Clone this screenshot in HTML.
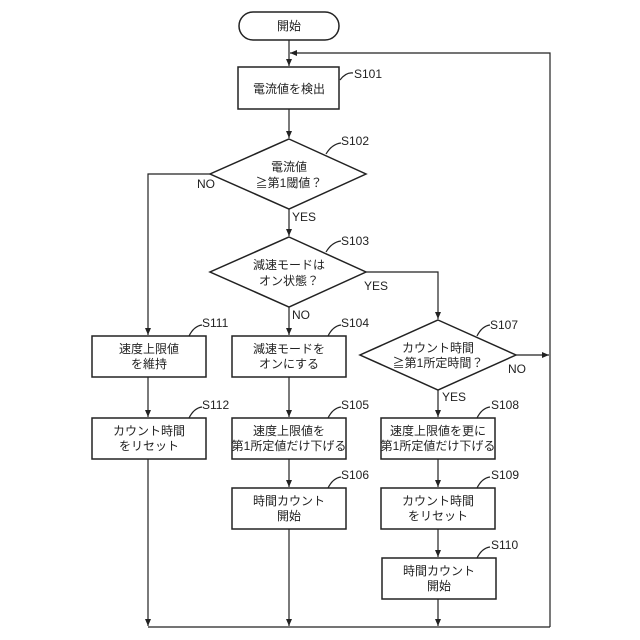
<!DOCTYPE html>
<html><head><meta charset="utf-8"><style>body{margin:0;background:#fff}svg{display:block}</style></head><body>
<svg width="640" height="640" viewBox="0 0 640 640" xmlns="http://www.w3.org/2000/svg" font-family="'Liberation Sans','Noto Sans CJK JP',sans-serif">
<defs><marker id="a" markerWidth="8" markerHeight="8" refX="7" refY="4" orient="auto" markerUnits="userSpaceOnUse"><path d="M0,1 L7,4 L0,7 z" fill="#222"/></marker></defs>
<g stroke="#222" stroke-width="1.5" fill="none">
<rect x="239" y="12" width="100" height="28" rx="14" fill="#fff"/>
<rect x="238" y="67" width="101" height="42"/>
<polygon points="289,139 366,174 289,209 210,174"/>
<polygon points="289,237 366,272 289,307 210,272"/>
<polygon points="438,320 516,355 438,390 360,355"/>
<rect x="92" y="336" width="114" height="41"/>
<rect x="92" y="418" width="114" height="41"/>
<rect x="232" y="336" width="114" height="41"/>
<rect x="232" y="418" width="114" height="41"/>
<rect x="232" y="488" width="114" height="41"/>
<rect x="381" y="418" width="114" height="41"/>
<rect x="381" y="488" width="114" height="41"/>
<rect x="382" y="558" width="114" height="41"/>
</g>
<g stroke="#222" stroke-width="1.2" fill="none">
<line x1="289" y1="40" x2="289" y2="66" marker-end="url(#a)"/>
<polyline points="550,627 550,53 290,53" marker-end="url(#a)"/>
<line x1="289" y1="109" x2="289" y2="138" marker-end="url(#a)"/>
<line x1="289" y1="209" x2="289" y2="236" marker-end="url(#a)"/>
<polyline points="210,174 148,174 148,335" marker-end="url(#a)"/>
<polyline points="366,272 438,272 438,319" marker-end="url(#a)"/>
<line x1="289" y1="307" x2="289" y2="335" marker-end="url(#a)"/>
<line x1="289" y1="377" x2="289" y2="417" marker-end="url(#a)"/>
<line x1="289" y1="459" x2="289" y2="487" marker-end="url(#a)"/>
<line x1="289" y1="529" x2="289" y2="626" marker-end="url(#a)"/>
<line x1="148" y1="377" x2="148" y2="417" marker-end="url(#a)"/>
<line x1="148" y1="459" x2="148" y2="626" marker-end="url(#a)"/>
<line x1="516" y1="355" x2="549" y2="355" marker-end="url(#a)"/>
<line x1="438" y1="390" x2="438" y2="417" marker-end="url(#a)"/>
<line x1="438" y1="459" x2="438" y2="487" marker-end="url(#a)"/>
<line x1="438" y1="529" x2="438" y2="557" marker-end="url(#a)"/>
<line x1="438" y1="599" x2="438" y2="626" marker-end="url(#a)"/>
<line x1="148" y1="627" x2="550" y2="627"/>
<path d="M340,80 q6,-8 13,-7"/>
<path d="M326,154 q6,-10 15,-11"/>
<path d="M326,252 q6,-10 15,-11"/>
<path d="M189,336 q5,-10 13,-11"/>
<path d="M189,418 q5,-10 13,-11"/>
<path d="M328,336 q5,-10 13,-11"/>
<path d="M328,418 q5,-10 13,-11"/>
<path d="M328,488 q5,-10 13,-11"/>
<path d="M477,336 q5,-10 13,-11"/>
<path d="M477,418 q5,-10 13,-11"/>
<path d="M477,488 q5,-10 13,-11"/>
<path d="M477,558 q5,-10 13,-11"/>
</g>
<g font-size="12" fill="#222" text-anchor="middle">
<text x="289" y="30">開始</text>
<text x="289" y="93">電流値を検出</text>
<text x="289" y="171">電流値</text><text x="289" y="187">≧第1閾値？</text>
<text x="289" y="269">減速モードは</text><text x="289" y="285">オン状態？</text>
<text x="438" y="352">カウント時間</text><text x="438" y="367">≧第1所定時間？</text>
<text x="149" y="353">速度上限値</text><text x="149" y="368">を維持</text>
<text x="149" y="435">カウント時間</text><text x="149" y="450">をリセット</text>
<text x="289" y="353">減速モードを</text><text x="289" y="368">オンにする</text>
<text x="289" y="435">速度上限値を</text><text x="289" y="450">第1所定値だけ下げる</text>
<text x="289" y="505">時間カウント</text><text x="289" y="520">開始</text>
<text x="438" y="435">速度上限値を更に</text><text x="438" y="450">第1所定値だけ下げる</text>
<text x="438" y="505">カウント時間</text><text x="438" y="520">をリセット</text>
<text x="439" y="575">時間カウント</text><text x="439" y="590">開始</text>
</g>
<g font-size="12" fill="#222">
<text x="354" y="78">S101</text><text x="341" y="145">S102</text><text x="341" y="245">S103</text>
<text x="202" y="327">S111</text><text x="202" y="409">S112</text>
<text x="341" y="327">S104</text><text x="341" y="409">S105</text><text x="341" y="479">S106</text>
<text x="490" y="329">S107</text><text x="491" y="409">S108</text><text x="491" y="479">S109</text><text x="491" y="549">S110</text>
<text x="197" y="188">NO</text><text x="292" y="221">YES</text><text x="292" y="319">NO</text>
<text x="364" y="290">YES</text><text x="508" y="373">NO</text><text x="442" y="401">YES</text>
</g>
</svg>
</body></html>
